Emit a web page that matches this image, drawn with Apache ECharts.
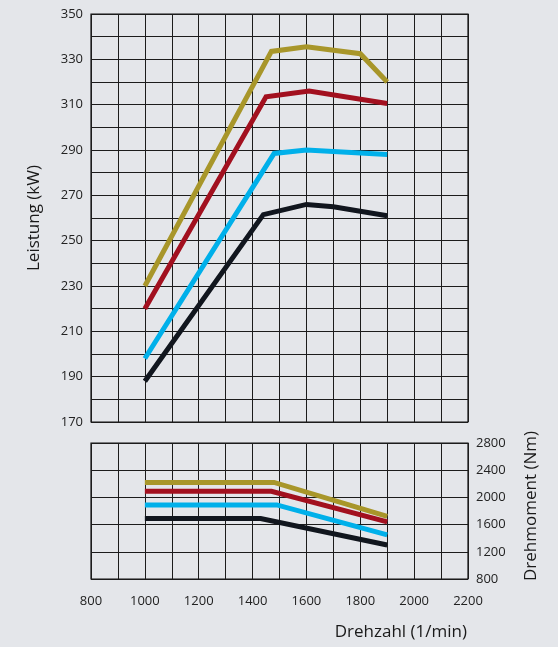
<!DOCTYPE html>
<html>
<head>
<meta charset="utf-8">
<script src="https://cdn.jsdelivr.net/npm/echarts@6/dist/echarts.min.js"></script>
<style>
html,body{margin:0;padding:0;background:#e4e6ea;}
#c{width:558px;height:647px;}
</style>
</head>
<body>
<div id="c"></div>
<script>
// Power curves (rpm, kW)
const powerGold  = [[1000,230],[1470,333.5],[1600,335.5],[1800,332.5],[1900,320]];
const powerRed   = [[1000,220],[1450,313.5],[1610,316],[1900,310.5]];
const powerBlue  = [[1000,198],[1480,288.5],[1600,290],[1900,288]];
const powerBlack = [[1000,188],[1440,261.5],[1600,266],[1700,265],[1900,261]];
// Torque curves (rpm, Nm)
const torqueGold  = [[1000,2220],[1480,2220],[1900,1720]];
const torqueRed   = [[1000,2090],[1470,2090],[1900,1640]];
const torqueBlue  = [[1000,1890],[1490,1890],[1900,1450]];
const torqueBlack = [[1000,1690],[1430,1690],[1900,1300]];
// Axis ranges / ticks
const rpmRange = [800, 2200];
const powerRange = [170, 350];
const torqueRange = [800, 2800];
const powerName = 'Leistung (kW)';
const torqueName = 'Drehmoment (Nm)';
const rpmName = 'Drehzahl (1/min)';

const colors = {gold:'#a8962a', red:'#a2101f', blue:'#00b0ea', black:'#11161e'};
const FONT = 'Open Sans';
const gridLine = {show:true, lineStyle:{color:'#1c1c1c', width:1}};

const chart = echarts.init(document.getElementById('c'), null, {renderer:'canvas'});

function line(data, color, xi, yi){
  return {type:'line', data:data, xAxisIndex:xi, yAxisIndex:yi, showSymbol:false, symbol:'none',
    lineStyle:{color:color, width:5, join:'miter', cap:'butt'}, silent:true, animation:false, z:3};
}

chart.setOption({
  backgroundColor:'#e4e6ea',
  animation:false,
  textStyle:{fontFamily:FONT},
  grid:[
    {left:91, right:90, top:14, height:408, show:true, borderColor:'#111', borderWidth:1.2, backgroundColor:'transparent'},
    {left:91, right:90, top:443, height:136, show:true, borderColor:'#111', borderWidth:1.2, backgroundColor:'transparent'}
  ],
  xAxis:[
    {gridIndex:0, type:'value', min:rpmRange[0], max:rpmRange[1], interval:100,
     axisLabel:{show:false}, axisTick:{show:false}, axisLine:{show:false}, splitLine:gridLine},
    {gridIndex:1, type:'value', min:rpmRange[0], max:rpmRange[1], interval:100,
     axisLabel:{show:true, margin:16, color:'#222', fontSize:13, fontFamily:FONT,
       formatter:function(v){return v%200===0?String(v):'';}},
     axisTick:{show:false}, axisLine:{show:false}, splitLine:gridLine}
  ],
  yAxis:[
    {gridIndex:0, type:'value', min:powerRange[0], max:powerRange[1], interval:10,
     axisLabel:{show:true, margin:8, color:'#222', fontSize:13, fontFamily:FONT,
       formatter:function(v){return (v-170)%20===0?String(v):'';}},
     axisTick:{show:false}, axisLine:{show:false}, splitLine:gridLine},
    {gridIndex:1, type:'value', position:'right', min:torqueRange[0], max:torqueRange[1], interval:400,
     axisLabel:{show:true, margin:8, color:'#222', fontSize:13, fontFamily:FONT,
       formatter:function(v){return String(v);}},
     axisTick:{show:false}, axisLine:{show:false}, splitLine:gridLine}
  ],
  graphic:[
    {type:'text', x:34, y:218, rotation:Math.PI/2, style:{text:powerName, fill:'#1a1a1a', font:'17px "Open Sans"', align:'center', verticalAlign:'middle'}},
    {type:'text', x:531, y:506, rotation:Math.PI/2, style:{text:torqueName, fill:'#1a1a1a', font:'17px "Open Sans"', align:'center', verticalAlign:'middle'}},
    {type:'text', x:467, y:632, style:{text:rpmName, fill:'#1a1a1a', font:'17px "Open Sans"', align:'right', verticalAlign:'middle'}}
  ],
  series:[
    line(powerGold, colors.gold, 0, 0),
    line(powerRed, colors.red, 0, 0),
    line(powerBlue, colors.blue, 0, 0),
    line(powerBlack, colors.black, 0, 0),
    line(torqueGold, colors.gold, 1, 1),
    line(torqueRed, colors.red, 1, 1),
    line(torqueBlue, colors.blue, 1, 1),
    line(torqueBlack, colors.black, 1, 1)
  ]
});
</script>
</body>
</html>
